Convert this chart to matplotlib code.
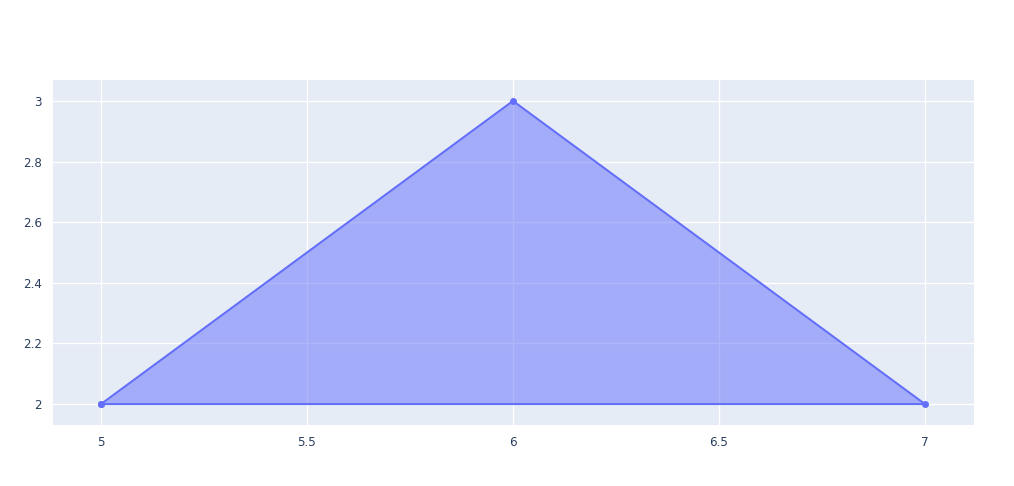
import matplotlib
matplotlib.use("Agg")
import matplotlib.pyplot as plt

# data: closed triangle
xs = [5, 6, 7, 5]
ys = [2, 3, 2, 2]
xticks = [5, 5.5, 6, 6.5, 7]
xlabels = ["5", "5.5", "6", "6.5", "7"]
yticks = [2, 2.2, 2.4, 2.6, 2.8, 3]
ylabels = ["2", "2.2", "2.4", "2.6", "2.8", "3"]

W, H = 1014, 486
fig = plt.figure(figsize=(W / 100, H / 100), dpi=100)
ax = fig.add_axes([53 / W, (H - 425) / H, 921 / W, 345 / H])
ax.set_facecolor("#E5ECF6")

ax.fill(xs, ys, color="#636efa", alpha=0.5, lw=0, zorder=2)
ax.plot(xs, ys, color="#636efa", lw=1.45, marker="o", ms=4, zorder=3)

ax.set_xlim(4.8835, 7.119)
ax.set_ylim(1.931, 3.069)
ax.set_xticks(xticks)
ax.set_xticklabels(xlabels)
ax.set_yticks(yticks)
ax.set_yticklabels(ylabels)
ax.grid(True, color="white", lw=1, zorder=1)
ax.set_axisbelow(True)
ax.tick_params(length=0, labelsize=8.6, labelcolor="#2a3f5f", pad=8)
for s in ax.spines.values():
    s.set_visible(False)

fig.savefig("out.png", dpi=100)
